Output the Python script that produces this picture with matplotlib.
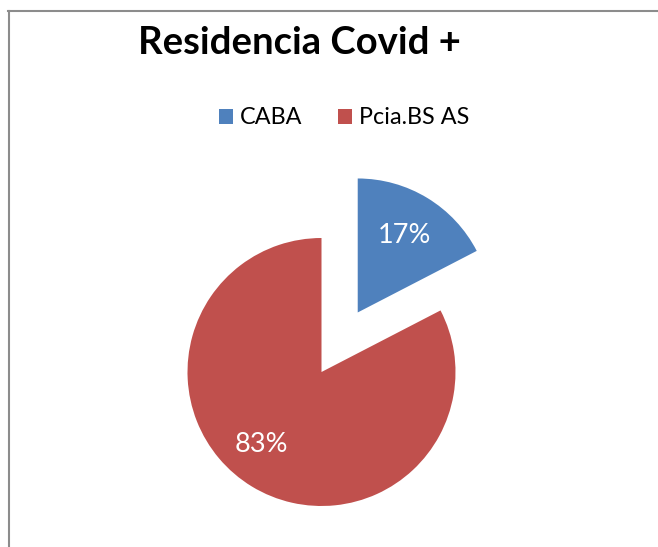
import matplotlib
matplotlib.use("Agg")
import matplotlib.pyplot as plt
from matplotlib.lines import Line2D

labels = ["CABA", "Pcia.BS AS"]
values = [17.4, 82.6]
colors = ["#4F81BD", "#C0504D"]
explode_frac = [0.52, 0.0]
title = "Residencia Covid +"

W, H = 658, 547
R = 134
fig = plt.figure(figsize=(W / 100, H / 100), dpi=100)
ax = fig.add_axes([0, 0, 1, 1])

wedges, texts, autotexts = ax.pie(
    values, colors=colors, explode=[e * R for e in explode_frac],
    startangle=90, counterclock=False,
    center=(321.5, H - 372), radius=R, autopct="%1.0f%%", pctdistance=0.67,
    textprops=dict(color="white", fontsize=19.5, family="Lato"),
    wedgeprops=dict(linewidth=0), frame=True)
# Excel-like best-fit nudge of the large-slice label
px, py = autotexts[1].get_position()
autotexts[1].set_position((px - 13, py + 4))
ax.set_xlim(0, W)
ax.set_ylim(0, H)
ax.axis("off")

fig.text(299 / W, 1 - 43 / H, title, ha="center", va="center",
         fontsize=27.5, fontweight="bold", family="Lato")

fig.legend(wedges, labels, loc="center", bbox_to_anchor=(344 / W, 1 - 118 / H),
           ncol=2, frameon=False, prop=dict(family="Lato", size=16.8),
           handlelength=0.6, handleheight=0.6, handletextpad=0.3,
           columnspacing=1.5)

fig.add_artist(Line2D([8.5 / W, 8.5 / W], [0, 1 - 10.5 / H], transform=fig.transFigure,
                      color="#8c8c8c", linewidth=1.5))
fig.add_artist(Line2D([8 / W, 1], [1 - 10.5 / H, 1 - 10.5 / H], transform=fig.transFigure,
                      color="#8c8c8c", linewidth=1.5))

fig.savefig("out.png", dpi=100, facecolor="white")
